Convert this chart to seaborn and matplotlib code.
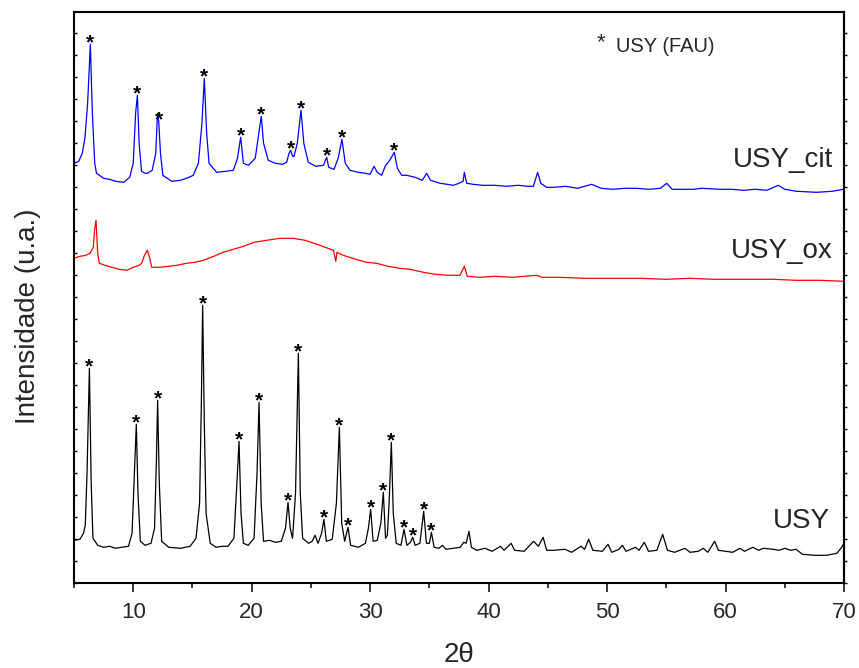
import matplotlib
matplotlib.use("Agg")
import matplotlib.pyplot as plt
from matplotlib.ticker import MultipleLocator, NullFormatter
import seaborn as sns
import pandas as pd

# ---------------- data (2theta, intensity in a.u.) ----------------
usy_x = [5.0, 5.5, 5.8, 5.95, 6.1, 6.3, 6.45, 6.6, 7.0, 7.5, 8.0, 8.5, 9.0, 9.6, 9.9,
         10.1, 10.26, 10.4, 10.6, 11.0, 11.5, 11.8, 11.95, 12.06, 12.2, 12.4, 13.0, 14.0,
         14.8, 15.3, 15.6, 15.75, 15.86, 16.0, 16.15, 16.5, 17.0, 17.5, 18.0, 18.5, 18.75,
         18.93, 19.1, 19.3, 19.7, 20.2, 20.45, 20.62, 20.8, 21.0, 21.5, 22.0, 22.5, 22.85,
         23.07, 23.25, 23.45, 23.7, 23.94, 24.1, 24.3, 24.8, 25.1, 25.35, 25.6, 25.9, 26.1,
         26.3, 26.8, 27.15, 27.4, 27.6, 27.85, 28.13, 28.35, 29.0, 29.6, 29.85, 30.04, 30.25,
         30.6, 30.9, 31.11, 31.3, 31.45, 31.6, 31.79, 31.95, 32.2, 32.6, 32.86, 33.1, 33.4,
         33.59, 33.8, 34.2, 34.52, 34.75, 35.0, 35.17, 35.4, 35.8, 36.1, 36.4, 37.0, 37.6,
         37.9, 38.1, 38.34, 38.55, 39.0, 39.7, 40.3, 41.0, 41.3, 41.9, 42.2, 43.0, 43.8,
         44.2, 44.6, 44.9, 45.5, 46.45, 47.0, 47.8, 48.1, 48.45, 48.8, 49.6, 50.08, 50.4,
         51.0, 51.29, 51.6, 52.4, 52.7, 53.14, 53.5, 54.2, 54.69, 55.1, 55.7, 56.58, 57.0,
         57.7, 58.12, 58.5, 59.08, 59.4, 60.0, 60.6, 61.22, 61.6, 62.3, 62.8, 63.2, 64.03,
         64.5, 65.02, 65.5, 65.95, 66.5, 67.5, 68.5, 69.4, 69.8, 70.0]
usy_y = [43, 44, 50, 58, 110, 215, 100, 45, 38, 36, 37, 35, 36, 37, 50,
         110, 159, 90, 42, 38, 40, 55, 120, 183, 100, 42, 36, 35,
         37, 45, 80, 180, 278, 160, 70, 40, 36, 37, 37, 45, 100,
         142, 70, 40, 38, 45, 110, 181, 80, 42, 43, 41, 42, 55,
         81, 55, 45, 90, 230, 90, 45, 40, 42, 48, 40, 50, 64,
         42, 44, 80, 156, 60, 42, 56, 38, 36, 40, 55, 74, 42,
         43, 60, 91, 45, 48, 80, 141, 70, 40, 38, 54, 38, 41,
         46, 38, 40, 72, 40, 40, 51, 36, 35, 38, 34, 35, 36,
         41, 40, 52, 36, 33, 35, 32, 37, 33, 40, 33, 32, 42,
         37, 46, 33, 33, 34, 31, 37, 34, 44, 33, 32, 39, 31,
         34, 38, 32, 36, 33, 41, 32, 33, 49, 33, 31, 35, 31,
         32, 35, 31, 42, 33, 32, 31, 35, 32, 36, 33, 35, 34,
         33, 35, 33, 34, 29, 28, 28, 30, 36, 40]

ox_x = [5.0, 5.5, 6.0, 6.35, 6.63, 6.75, 6.86, 7.0, 7.14, 7.6, 8.2, 8.8, 9.45, 10.0, 10.5,
        10.71, 10.95, 11.19, 11.4, 11.56, 12.2, 13.0, 13.67, 14.5, 15.2, 15.92, 16.8, 17.6,
        18.45, 19.3, 20.2, 21.26, 22.4, 23.51, 24.5, 25.77, 26.2, 26.9, 27.1, 27.2, 27.73,
        28.8, 29.7, 30.55, 31.5, 32.5, 33.36, 34.5, 35.5, 36.5, 37.58, 37.95, 38.2, 39.27,
        40.5, 42.0, 44.06, 44.5, 46.0, 48.0, 50.0, 52.8, 55.0, 57.0, 59.0, 61.0, 64.03,
        66.0, 68.0, 69.95]
ox_y = [325, 327, 328, 330, 336, 355, 363, 330, 320, 318, 316, 314, 313, 316, 318,
        320, 328, 333, 325, 316, 316, 317, 318, 320, 321, 323, 327, 331,
        334, 337, 341, 343, 345, 345, 343, 338, 336, 333, 322, 331, 328,
        324, 321, 320, 317, 315, 314, 311, 309, 308, 308, 317, 307, 306,
        307, 306, 308, 306, 306, 305, 305, 305, 304, 305, 304, 304, 304,
        303, 303, 302]

cit_x = [5.0, 5.4, 5.7, 5.93, 6.15, 6.38, 6.55, 6.75, 6.9, 7.5, 8.0, 8.5, 9.2, 9.7, 10.0,
         10.2, 10.35, 10.5, 10.7, 11.0, 11.19, 11.6, 11.9, 12.05, 12.15, 12.3, 12.5, 13.25,
         14.0, 14.7, 15.07, 15.5, 15.8, 16.0, 16.2, 16.4, 17.04, 17.8, 18.45, 18.8, 19.07,
         19.3, 19.72, 20.3, 20.6, 20.81, 21.0, 21.4, 22.0, 22.6, 22.95, 23.15, 23.29, 23.45,
         23.57, 23.85, 24.16, 24.4, 24.78, 25.4, 26.05, 26.33, 26.5, 26.95, 27.3, 27.62,
         27.9, 28.3, 29.0, 29.6, 29.99, 30.33, 30.6, 30.97, 31.3, 31.53, 31.75, 32.04, 32.3,
         32.66, 33.08, 33.8, 34.4, 34.77, 35.1, 35.9, 36.5, 37.02, 37.5, 37.85, 37.95, 38.15,
         38.7, 39.5, 40.5, 41.5, 42.5, 43.3, 43.78, 44.14, 44.4, 44.9, 45.5, 46.5, 47.5,
         48.7, 49.5, 50.5, 51.5, 52.5, 53.5, 54.5, 55.03, 55.5, 57.28, 58.0, 59.5, 60.5,
         61.5, 62.5, 63.5, 64.45, 65.0, 66.0, 67.7, 69.0, 69.95]
cit_y = [420, 422, 430, 446, 480, 539, 470, 420, 410, 405, 404, 402, 401, 406, 420,
         470, 488, 440, 412, 410, 410, 413, 430, 470, 462, 430, 408, 402,
         403, 406, 408, 420, 460, 505, 450, 420, 411, 412, 413, 425, 446,
         420, 418, 425, 450, 467, 440, 423, 420, 419, 421, 430, 433, 427,
         427, 440, 473, 440, 421, 417, 418, 426, 416, 414, 425, 444,
         420, 413, 411, 410, 409, 417, 411, 408, 418, 421, 425, 431, 415,
         408, 408, 406, 403, 410, 403, 400, 399, 398, 400, 402, 411, 400,
         399, 398, 398, 397, 398, 397, 397, 411, 400, 396, 396, 397, 395,
         399, 395, 394, 395, 395, 394, 395, 400, 394, 394, 395, 394, 394,
         393, 394, 393, 398, 394, 392, 391, 392, 394]

# FAU reflections marked with an asterisk
usy_star_x = [6.3, 10.26, 12.06, 15.86, 18.93, 20.62, 23.07, 23.94, 26.1, 27.4, 28.13,
              30.04, 31.11, 31.79, 32.86, 33.59, 34.52, 35.17]
usy_star_y = [215, 159, 183, 278, 142, 181, 81, 230, 64, 156, 56,
              74, 91, 141, 54, 46, 72, 51]
cit_star_x = [6.38, 10.35, 12.15, 16.0, 19.07, 20.81, 23.29, 24.16, 26.33, 27.62, 32.04]
cit_star_y = [539, 488, 462, 505, 446, 467, 433, 473, 426, 444, 431]

series_names = ["USY", "USY_ox", "USY_cit"]
series_colors = ["black", "red", "blue"]

# ---------------- figure ----------------
sns.set_style("ticks")
plt.rcParams["font.family"] = ["Liberation Sans", "DejaVu Sans"]

fig = plt.figure(figsize=(8.59, 6.68), dpi=100)
ax = fig.add_axes([74 / 859, 1 - 583.3 / 668, 770 / 859, 571.3 / 668])

frames = []
for name, xs, ys in [("USY", usy_x, usy_y), ("USY_ox", ox_x, ox_y), ("USY_cit", cit_x, cit_y)]:
    frames.append(pd.DataFrame({"2theta": xs, "I": ys, "amostra": name}))
df = pd.concat(frames, ignore_index=True)

sns.lineplot(data=df, x="2theta", y="I", hue="amostra", hue_order=series_names,
             palette=series_colors, estimator=None, sort=False, lw=0.9,
             legend=False, ax=ax)

for sx, sy in [(usy_star_x, usy_star_y), (cit_star_x, cit_star_y)]:
    for x, y in zip(sx, sy):
        ax.annotate("*", (x, y), xytext=(0, -3), textcoords="offset points",
                    ha="center", va="baseline", fontsize=15, fontweight="bold",
                    color="black")

ax.set_xlim(5, 70)
ax.set_ylim(0, 571.3)

for s in ax.spines.values():
    s.set_linewidth(1.5)
    s.set_color("black")

ax.xaxis.set_major_locator(MultipleLocator(10))
ax.xaxis.set_minor_locator(MultipleLocator(5))
ax.tick_params(axis="x", which="major", direction="out", length=6.5, width=1.1,
               labelsize=16, pad=7, top=False, color="black")
ax.tick_params(axis="x", which="minor", direction="out", length=3.5, width=1.1,
               top=False, color="black")

ax.yaxis.set_major_locator(MultipleLocator(22))
ax.yaxis.set_major_formatter(NullFormatter())
ax.tick_params(axis="y", which="major", direction="in", length=2.5, width=1.0,
               left=True, right=False, color="black")

sec = ax.secondary_yaxis("right")
sec.yaxis.set_major_locator(MultipleLocator(22))
sec.yaxis.set_major_formatter(NullFormatter())
sec.tick_params(axis="y", direction="out", length=2.5, width=1.0, color="black")
sec.spines["right"].set_linewidth(1.5)

ax.set_xlabel("2θ", fontsize=20, labelpad=14)
ax.set_ylabel("Intensidade (u.a.)", fontsize=20)
ax.yaxis.set_label_coords(-0.043, 0.467)

for txt, yy, xx in [("USY_cit", 0.729, 0.9853), ("USY_ox", 0.569, 0.9853), ("USY", 0.0963, 0.9818)]:
    ax.text(xx, yy, txt, transform=ax.transAxes, ha="right", va="baseline", fontsize=20)

ax.text(0.6844, 0.936, "*", transform=ax.transAxes, ha="center", va="baseline", fontsize=16)
ax.text(0.7039, 0.930, "USY (FAU)", transform=ax.transAxes, ha="left", va="baseline", fontsize=14.5)

fig.savefig("out.png", dpi=100)
